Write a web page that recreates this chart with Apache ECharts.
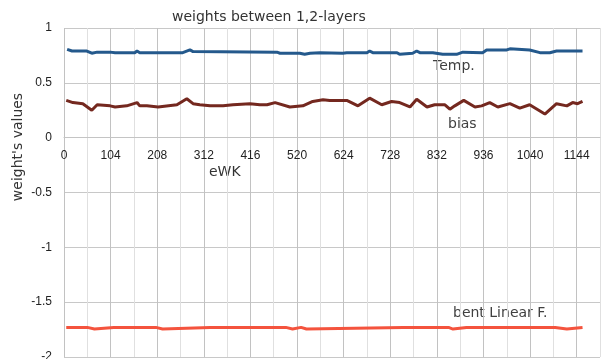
<!DOCTYPE html>
<html>
<head>
<meta charset="utf-8">
<style>
  html, body { margin: 0; padding: 0; background: #fff; }
  #chart { width: 601px; height: 359px; }
</style>
<script src="https://cdn.jsdelivr.net/npm/echarts@6/dist/echarts.min.js"></script>
</head>
<body>
<div id="chart"></div>
<script>
// Epochs (eWK) and weight values for each trace
const tempEpochs = [7, 18, 51, 62, 74, 103, 114, 158, 163, 169, 207, 210, 214, 265, 281, 288, 475, 482, 526, 537, 549, 571, 622, 631, 676, 682, 689, 743, 749, 778, 787, 794, 823, 845, 876, 890, 934, 943, 988, 995, 1039, 1062, 1084, 1099, 1144, 1157];
const tempValues = [0.805, 0.79, 0.79, 0.77, 0.78, 0.78, 0.775, 0.775, 0.79, 0.775, 0.775, 0.76, 0.775, 0.775, 0.80, 0.785, 0.78, 0.77, 0.77, 0.76, 0.77, 0.775, 0.77, 0.775, 0.775, 0.79, 0.775, 0.775, 0.76, 0.77, 0.79, 0.775, 0.775, 0.76, 0.76, 0.78, 0.775, 0.80, 0.80, 0.81, 0.80, 0.775, 0.775, 0.79, 0.79, 0.79];

const biasEpochs = [5, 20, 42, 62, 74, 103, 114, 140, 163, 169, 185, 210, 252, 274, 288, 303, 326, 355, 377, 415, 437, 453, 471, 504, 533, 555, 578, 593, 631, 656, 682, 709, 731, 749, 772, 787, 810, 827, 850, 861, 872, 892, 917, 932, 950, 968, 995, 1017, 1039, 1073, 1099, 1122, 1135, 1146, 1157];
const biasValues = [0.34, 0.32, 0.31, 0.25, 0.30, 0.29, 0.28, 0.29, 0.32, 0.29, 0.29, 0.28, 0.30, 0.355, 0.31, 0.30, 0.29, 0.29, 0.30, 0.31, 0.30, 0.30, 0.32, 0.28, 0.29, 0.33, 0.345, 0.34, 0.34, 0.29, 0.36, 0.30, 0.33, 0.32, 0.28, 0.35, 0.28, 0.30, 0.30, 0.26, 0.29, 0.34, 0.28, 0.29, 0.32, 0.28, 0.31, 0.27, 0.30, 0.215, 0.31, 0.29, 0.32, 0.31, 0.33];

const bentEpochs = [5, 52, 56, 68, 72, 111, 114, 117, 205, 208, 220, 223, 326, 330, 334, 495, 498, 510, 513, 529, 532, 541, 544, 757, 760, 763, 809, 812, 815, 858, 861, 868, 871, 898, 901, 904, 943, 946, 949, 963, 966, 969, 992, 995, 998, 1014, 1017, 1020, 1043, 1046, 1049, 1096, 1099, 1122, 1125, 1157];
const bentValues = [-1.73, -1.73, -1.745, -1.745, -1.73, -1.73, -1.745, -1.73, -1.73, -1.745, -1.745, -1.73, -1.73, -1.72, -1.73, -1.73, -1.745, -1.745, -1.73, -1.73, -1.745, -1.745, -1.73, -1.73, -1.745, -1.73, -1.73, -1.745, -1.73, -1.73, -1.745, -1.745, -1.73, -1.73, -1.745, -1.73, -1.73, -1.745, -1.73, -1.73, -1.745, -1.73, -1.73, -1.745, -1.73, -1.73, -1.745, -1.73, -1.73, -1.745, -1.73, -1.73, -1.745, -1.745, -1.73, -1.73];

const seriesNames = ['Temp.', 'bias', 'bent Linear F.'];
const yTicks = { min: -2, max: 1, step: 0.5 };
const xTicks = { min: 0, max: 1196, step: 52, labelStep: 104 };

const zip = (xs, ys) => xs.map((x, i) => [x, ys[i]]);

const NUM_FONT = 'Liberation Sans';
const TXT_FONT = 'DejaVu Sans';
const chart = echarts.init(document.getElementById('chart'), null, { renderer: 'canvas' });

const note = (text, x, y, extra) => Object.assign({
  type: 'text', x, y, silent: true,
  style: { text, fontFamily: TXT_FONT, fontSize: 14, fill: '#404040',
    textAlign: 'left', textVerticalAlign: 'middle' }
}, extra || {});

chart.setOption({
  animation: false,
  backgroundColor: '#ffffff',
  textStyle: { fontFamily: NUM_FONT },
  grid: { left: 64, right: 1, top: 28, bottom: 2, containLabel: false, outerBoundsMode: 'none' },
  xAxis: {
    type: 'value',
    position: 'bottom',
    min: xTicks.min, max: xTicks.max, interval: xTicks.step,
    axisLine: { show: true, onZero: false, lineStyle: { color: '#c4c4c4', width: 1 } },
    axisTick: { show: false },
    axisLabel: {
      color: '#222', fontSize: 12, fontFamily: NUM_FONT, margin: 12,
      showMaxLabel: false,
      formatter: v => (v % xTicks.labelStep === 0 ? String(v) : '')
    },
    splitLine: { show: true, lineStyle: { color: ['#c2c2c2', '#e0e0e0'], width: 1 } }
  },
  yAxis: {
    type: 'value',
    min: yTicks.min, max: yTicks.max, interval: yTicks.step,
    axisLine: { show: false, onZero: false },
    axisTick: { show: false },
    axisLabel: { color: '#222', fontSize: 12, fontFamily: NUM_FONT, margin: 12 },
    splitLine: { show: true, lineStyle: { color: '#c8c8c8', width: 1 } }
  },
  graphic: [
    note('weights between 1,2-layers', 172, 17, { style: { text: 'weights between 1,2-layers', fontFamily: TXT_FONT, fontSize: 14, fill: '#333', textVerticalAlign: 'middle' } }),
    note("weight's values", 18, 147, { rotation: Math.PI / 2,
      style: { text: "weight's values", fontFamily: TXT_FONT, fontSize: 14, fill: '#333', textAlign: 'center', textVerticalAlign: 'middle' } }),
    note('eWK', 209, 172, { style: { text: 'eWK', fontFamily: TXT_FONT, fontSize: 14, fill: '#333', textVerticalAlign: 'middle' } }),
    note(seriesNames[0], 433, 66),
    note(seriesNames[1], 448, 124),
    note(seriesNames[2], 453, 313)
  ],
  series: [
    { name: seriesNames[0], type: 'line', data: zip(tempEpochs, tempValues), showSymbol: false,
      lineStyle: { color: '#24598c', width: 3 }, itemStyle: { color: '#24598c' } },
    { name: seriesNames[1], type: 'line', data: zip(biasEpochs, biasValues), showSymbol: false,
      lineStyle: { color: '#74281f', width: 3 }, itemStyle: { color: '#74281f' } },
    { name: seriesNames[2], type: 'line', data: zip(bentEpochs, bentValues), showSymbol: false,
      lineStyle: { color: '#f4533d', width: 3 }, itemStyle: { color: '#f4533d' } }
  ]
});

// Lift the epoch axis so it crosses the value axis at zero
const zeroY = chart.convertToPixel({ yAxisIndex: 0 }, 0);
const floorY = chart.convertToPixel({ yAxisIndex: 0 }, yTicks.min);
chart.setOption({ xAxis: { offset: zeroY - floorY } });
</script>
</body>
</html>
